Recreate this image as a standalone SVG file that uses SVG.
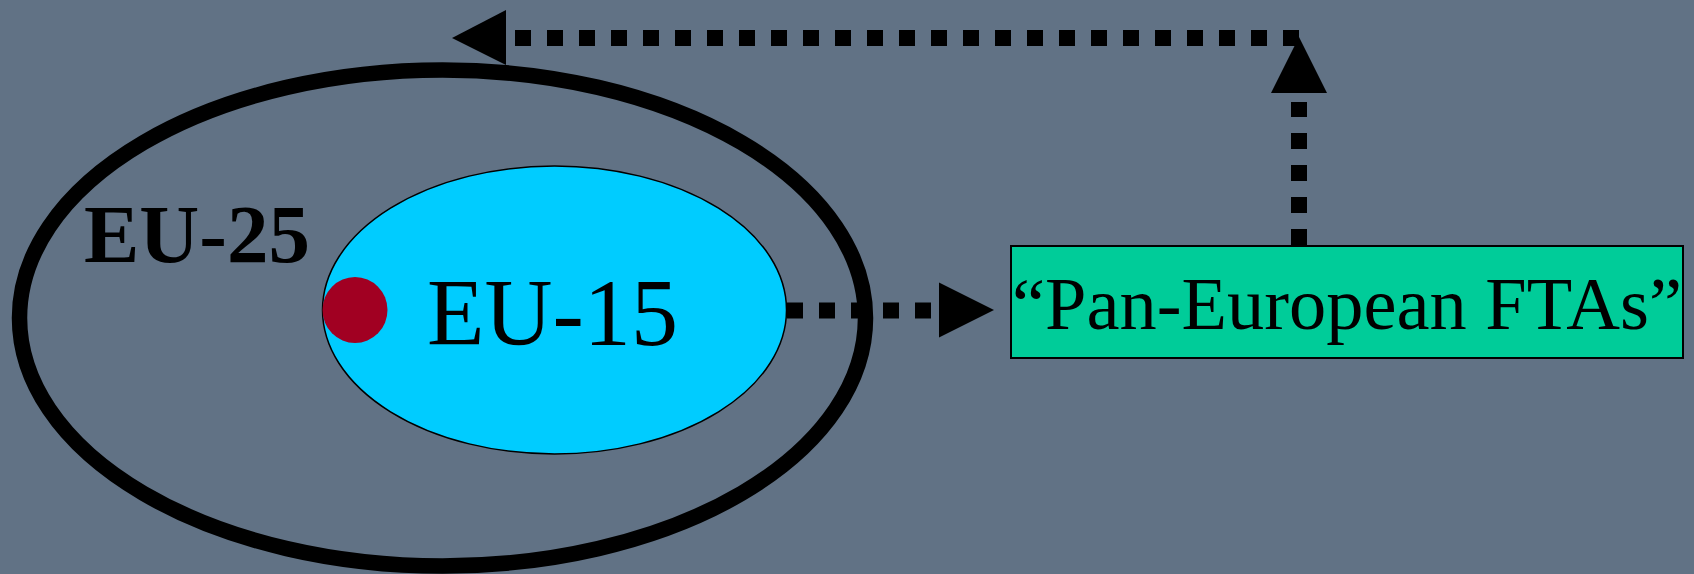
<svg xmlns="http://www.w3.org/2000/svg" width="1694" height="574" viewBox="0 0 1694 574">
<style>
.dash{fill:none;stroke:#000;stroke-width:16;stroke-dasharray:16 16}
.head{fill:#000}
.tnr{font-family:"Liberation Serif","Times New Roman",serif;fill:#000}
</style>
<rect x="0" y="0" width="1694" height="574" fill="#617285"/>
<g id="eu25">
<ellipse cx="442.5" cy="318" rx="423" ry="248" fill="none" stroke="#000" stroke-width="15.5"/>
<text class="tnr" x="84" y="262" font-size="83" font-weight="bold">EU-25</text>
</g>
<g id="eu15">
<ellipse cx="554.5" cy="310" rx="232" ry="144" fill="#00CCFF" stroke="#000" stroke-width="1.5"/>
<text class="tnr" x="427" y="345" font-size="96" textLength="251" lengthAdjust="spacingAndGlyphs">EU-15</text>
</g>
<g id="dot">
<ellipse cx="355" cy="310" rx="32.5" ry="33" fill="#A10022"/>
</g>
<g id="ftas">
<rect x="1011" y="246" width="672" height="112" fill="#00CC99" stroke="#000" stroke-width="2"/>
<text class="tnr" x="1012" y="329" font-size="75" textLength="670" lengthAdjust="spacingAndGlyphs">“Pan-European FTAs”</text>
</g>
<g id="connectors">
<path class="dash" d="M787 310.5 H931"/>
<polygon class="head" points="994,310 939,282.5 939,337.5"/>
<path class="dash" d="M1299 245 V102"/>
<polygon class="head" points="1299,37 1271,93 1327,93"/>
<path class="dash" d="M1299 38 H515" stroke-dashoffset="0"/>
<polygon class="head" points="452,38 506,10 506,65"/>
</g>
</svg>
